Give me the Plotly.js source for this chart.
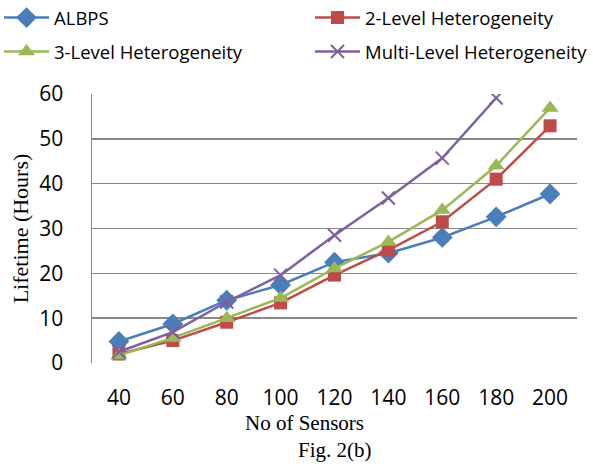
<!DOCTYPE html>
<html><head><meta charset="utf-8">
<script src="https://cdn.plot.ly/plotly-3.0.1.min.js"></script>
<style>html,body{margin:0;padding:0;background:#fff}</style>
</head><body>
<div id="chart" style="width:593px;height:464px"></div>
<script>
const sensors = ['40','60','80','100','120','140','160','180','200'];
const albps = [4.8, 8.7, 14.0, 17.4, 22.5, 24.5, 28.0, 32.6, 37.7];
const level2 = [2.0, 5.0, 9.1, 13.4, 19.6, 25.2, 31.5, 41.0, 52.9];
const level3 = [1.7, 5.6, 10.0, 14.5, 21.1, 27.0, 34.1, 44.0, 56.9];
const multiLevel = [2.5, 6.9, 13.6, 19.6, 28.5, 36.8, 45.7, 59.1, null];
const seriesNames = ['ALBPS','2-Level Heterogeneity','3-Level Heterogeneity','Multi-Level Heterogeneity'];
const yTicks = [0,10,20,30,40,50,60];

const sans = 'Open Sans, Liberation Sans, sans-serif';
const serif = 'Liberation Serif, Times New Roman, serif';

function tr(name, y, color, symbol, size, legend) {
  return {x: sensors, y: y, name: name, type: 'scatter', mode: 'lines+markers',
    line: {color: color, width: 2.5},
    marker: {color: color, symbol: symbol, size: size,
      line: symbol === 'x-thin' ? {color: color, width: 2} : {width: 0}},
    legend: legend, hoverinfo: 'skip'};
}
const data = [
  tr(seriesNames[0], albps, '#4A7EBB', 'diamond', 16, 'legend'),
  tr(seriesNames[1], level2, '#BE4B48', 'square', 13, 'legend2'),
  tr(seriesNames[2], level3, '#98B954', 'triangle-up', 15, 'legend3'),
  tr(seriesNames[3], multiLevel, '#7D60A0', 'x-thin', 13, 'legend4')
];
function leg(x, y) {
  return {orientation: 'h', xanchor: 'left', yanchor: 'middle', x: x, y: y,
    font: {family: sans, size: 18.5, color: '#000'},
    itemwidth: 45, bgcolor: 'rgba(0,0,0,0)', borderwidth: 0};
}
const layout = {
  width: 593, height: 464,
  margin: {l: 92, r: 16, t: 94, b: 101, autoexpand: false},
  paper_bgcolor: '#fff', plot_bgcolor: '#fff',
  showlegend: true,
  legend: leg(-0.1917, 1.2825),
  legend2: leg(0.4495, 1.2825),
  legend3: leg(-0.1917, 1.156),
  legend4: leg(0.4495, 1.156),
  xaxis: {type: 'category', range: [-0.5, 8.5], showgrid: false,
    zeroline: false, showline: false, ticks: '', ticklabelstandoff: 20,
    tickfont: {family: sans, size: 21, color: '#000'}},
  yaxis: {range: [0, 60], tickvals: yTicks, showgrid: true, gridcolor: '#898989', gridwidth: 1.5,
    zeroline: false, showline: true, linecolor: '#898989', linewidth: 1.5, ticks: '',
    ticklabelstandoff: 23, tickfont: {family: sans, size: 21, color: '#000'},
    title: {text: 'Lifetime (Hours)', font: {family: serif, size: 22, color: '#000'}, standoff: 4}},
  annotations: [
    {text: 'No of Sensors', xref: 'paper', yref: 'paper', x: 0.439, y: -0.223,
     xanchor: 'center', yanchor: 'middle', showarrow: false,
     font: {family: serif, size: 21, color: '#000'}},
    {text: 'Fig. 2(b)', xref: 'paper', yref: 'paper', x: 0.501, y: -0.323,
     xanchor: 'center', yanchor: 'middle', showarrow: false,
     font: {family: serif, size: 21, color: '#000'}}]
};
Plotly.newPlot('chart', data, layout, {staticPlot: true, displayModeBar: false});
</script>
</body></html>
